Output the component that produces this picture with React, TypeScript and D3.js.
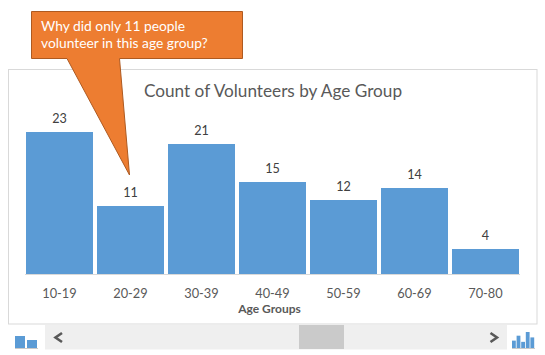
import React from "react";
import * as d3 from "d3";

const categories = ["10-19", "20-29", "30-39", "40-49", "50-59", "60-69", "70-80"];
const counts = [23, 11, 21, 15, 12, 14, 4];
const chartTitle = "Count of Volunteers by Age Group";
const xTitle = "Age Groups";
const calloutLines = ["Why did only 11 people", "volunteer in this age group?"];
const miniLeft = [3, 2];
const miniRight = [3, 5, 2.5, 6.5, 4.3];

const FONT = "Lato, Carlito, 'Open Sans', sans-serif";
const W = 545, H = 355;

export default function App() {
  const x = d3.scaleBand<string>().domain(categories).range([24, 521]).paddingInner(4 / 71).paddingOuter(2 / 71);
  const y = d3.scaleLinear().domain([0, 23]).range([274, 132]);
  const miniY = d3.scaleLinear().domain([0, 6.5]).range([348, 332]);
  const bw = x.bandwidth();
  return (
    <svg width={W} height={H} style={{ position: "absolute", left: 0, top: 0, background: "#fff", fontFamily: FONT }}>
      <rect x={8.5} y={69.5} width={528.5} height={254.5} fill="#fff" stroke="#d9d9d9" strokeWidth={1} />
      <text x={273} y={97} textAnchor="middle" fontSize={17.2} fill="#595959">{chartTitle}</text>
      {categories.map((c, i) => {
        const top = Math.round(y(counts[i]) + 0.12);
        const bx = x(c)!;
        return (
          <g key={c}>
            <rect x={bx} y={top} width={bw} height={274 - top} fill="#5b9bd5" />
            <text x={bx + bw / 2} y={top - 9.5} textAnchor="middle" fontSize={12.6} fill="#404040">{counts[i]}</text>
            <text x={bx + bw / 2} y={298} textAnchor="middle" fontSize={12.8} fill="#595959">{c}</text>
          </g>
        );
      })}
      <line x1={25} x2={520} y1={274.5} y2={274.5} stroke="#d9d9d9" strokeWidth={1} />
      <text x={269.5} y={313} textAnchor="middle" fontSize={12} fontWeight={700} fill="#595959">{xTitle}</text>

      <rect x={45} y={325} width={462} height={24.5} fill="#efefef" />
      <rect x={299} y={325} width={45} height={24} fill="#cacaca" />
      <path d="M62 333 L55.5 337.5 L62 342" fill="none" stroke="#595959" strokeWidth={2.6} />
      <path d="M490.5 333 L497 337.5 L490.5 342" fill="none" stroke="#595959" strokeWidth={2.6} />

      {miniLeft.map((v, i) => {
        const top = 348 - v * 4;
        return <rect key={i} x={15 + i * 12} y={top} width={10} height={v * 4} fill="#5b9bd5" />;
      })}
      <line x1={15} x2={38} y1={348.5} y2={348.5} stroke="#c9c9c9" />
      {miniRight.map((v, i) => (
        <rect key={i} x={512 + i * 4.6} y={miniY(v)} width={3.8} height={348 - miniY(v)} fill="#5b9bd5" />
      ))}
      <line x1={512} x2={535} y1={348.5} y2={348.5} stroke="#c9c9c9" />

      <path d="M31.5 11.5 H242.5 V58.5 H119.5 L129.5 175 L67 58.5 H31.5 Z" fill="#ed7d31" stroke="#ae5a21" strokeWidth={1} />
      {calloutLines.map((l, i) => (
        <text key={i} x={41} y={30.5 + i * 17.5} fontSize={13.8} fill="#fff">{l}</text>
      ))}
    </svg>
  );
}
